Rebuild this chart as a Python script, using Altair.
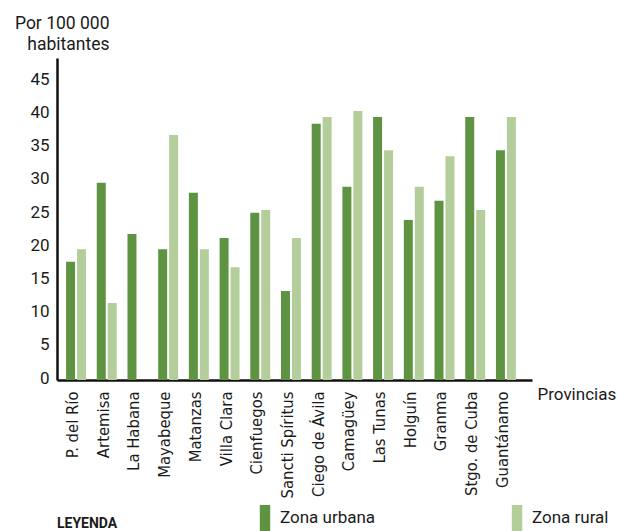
import altair as alt
import pandas as pd

# Tasa por 100 000 habitantes, por provincia y zona de residencia
provincias = [
    "P. del Río", "Artemisa", "La Habana", "Mayabeque", "Matanzas",
    "Villa Clara", "Cienfuegos", "Sancti Spíritus", "Ciego de Ávila",
    "Camagüey", "Las Tunas", "Holguín", "Granma", "Stgo. de Cuba",
    "Guantánamo",
]
zona_urbana = [17.8, 29.7, 22.0, 19.7, 28.2, 21.4, 25.2, 13.4, 38.6,
               29.1, 39.6, 24.1, 27.0, 39.6, 34.6]
zona_rural = [19.7, 11.6, 0.0, 36.9, 19.7, 17.0, 25.6, 21.4, 39.6,
              40.5, 34.6, 29.1, 33.7, 25.6, 39.6]
zonas = ["Zona urbana", "Zona rural"]
colores = ["#5e9341", "#b3cd9b"]
y_ticks = [0, 5, 10, 15, 20, 25, 30, 35, 40, 45]

rows = []
for p, u, r in zip(provincias, zona_urbana, zona_rural):
    rows.append({"provincia": p, "zona": zonas[0], "valor": u})
    rows.append({"provincia": p, "zona": zonas[1], "valor": r})
df = pd.DataFrame(rows)

TEXT = "Roboto"
NARROW = "'Liberation Sans Narrow', 'DejaVu Sans Condensed', sans-serif"

# Custom tall rectangle used as legend swatch
swatch = "M-0.4,-1 L0.4,-1 L0.4,1 L-0.4,1 Z"

chart = (
    alt.Chart(df)
    .mark_bar()
    .encode(
        x=alt.X(
            "provincia:N",
            sort=provincias,
            scale=alt.Scale(paddingInner=0.35, paddingOuter=0.41, align=0.36),
            axis=alt.Axis(
                title="Provincias",
                titleFont=TEXT,
                titleFontSize=17,
                titleFontWeight="normal",
                titleColor="#1a1a1a",
                titleAlign="left",
                titleBaseline="alphabetic",
                titleX=480,
                titleY=19,
                labelAngle=-90,
                labelAlign="right",
                labelBaseline="middle",
                labelFont=NARROW,
                labelFontSize=16.5,
                labelColor="#1a1a1a",
                labelPadding=11,
                labelOffset=-3,
                ticks=False,
                domainColor="#111111",
                domainWidth=2.5,
            ),
        ),
        xOffset=alt.XOffset(
            "zona:N", sort=zonas, scale=alt.Scale(paddingInner=0.18)
        ),
        y=alt.Y(
            "valor:Q",
            scale=alt.Scale(domain=[0, 48.5], nice=False),
            axis=alt.Axis(
                values=y_ticks,
                title=["Por 100 000", "habitantes"],
                titleFont=TEXT,
                titleFontSize=17.5,
                titleFontWeight="normal",
                titleColor="#1a1a1a",
                titleAngle=0,
                titleAlign="right",
                titleBaseline="alphabetic",
                titleX=52,
                titleY=-30,
                titleLineHeight=21,
                labelFont=TEXT,
                labelFontSize=17,
                labelColor="#1a1a1a",
                labelPadding=8,
                labelOffset=-2,
                ticks=False,
                grid=False,
                domainColor="#111111",
                domainWidth=2.5,
            ),
        ),
        color=alt.Color(
            "zona:N",
            sort=zonas,
            scale=alt.Scale(domain=zonas, range=colores),
            legend=alt.Legend(
                title="LEYENDA",
                orient="none",
                legendX=0,
                legendY=447,
                direction="horizontal",
                titleOrient="left",
                titleAnchor="end",
                titleBaseline="bottom",
                titleFont=TEXT,
                titleFontSize=14,
                titleFontWeight="bold",
                titleColor="#1a1a1a",
                titlePadding=134,
                symbolType=swatch,
                symbolSize=676,
                symbolStrokeWidth=0,
                labelFont=TEXT,
                labelFontSize=17,
                labelColor="#1a1a1a",
                labelOffset=2,
                columnPadding=128,
            ),
        ),
    )
    .properties(
        width=475,
        height=322,
        autosize=alt.AutoSizeParams(type="none"),
        padding={"left": 57, "top": 58, "right": 86, "bottom": 151},
    )
    .configure_view(stroke=None)
)

chart.save("out.html", embed_options={"renderer": "svg", "actions": False})
